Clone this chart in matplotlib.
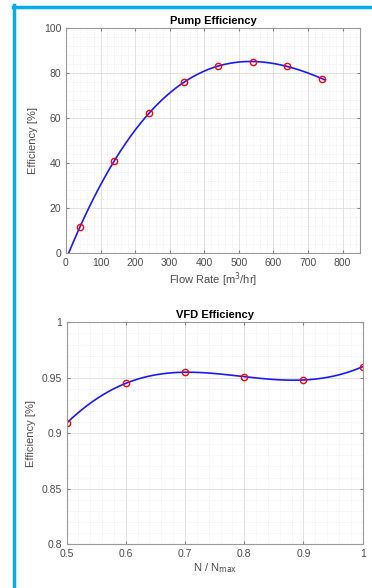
import numpy as np
import matplotlib.pyplot as plt
from matplotlib.lines import Line2D
from matplotlib.ticker import MultipleLocator, FuncFormatter

# pump test points
flow_rate = [40, 140, 240, 340, 440, 540, 640, 740]
pump_eff = [11.5, 41, 62, 76, 83, 85, 83, 77.5]

# VFD points
speed_ratio = [0.5, 0.6, 0.7, 0.8, 0.9, 1.0]
vfd_eff = [0.909, 0.945, 0.955, 0.951, 0.948, 0.960]

plt.rcParams["font.family"] = "Liberation Sans"
tick_col = "#4d4d4d"


def style_axes(ax):
    ax.tick_params(which="both", direction="in", top=True, right=True,
                   colors="#808080", labelcolor=tick_col, labelsize=7.5, length=2.5)
    ax.tick_params(which="minor", length=0)
    for s in ax.spines.values():
        s.set_color("#9a9a9a")
        s.set_linewidth(0.8)
    ax.grid(True, which="major", color="#dddddd", linewidth=0.6)
    ax.grid(True, which="minor", color="#e6e6e6", linewidth=0.5, linestyle=":")
    ax.set_axisbelow(True)


fig = plt.figure(figsize=(3.72, 5.88), dpi=100)

# pump efficiency, cubic fit through the test points
ax1 = fig.add_axes([0.1774, 0.5697, 0.790, 0.3827])
coef = np.polyfit(flow_rate, pump_eff, 3)
xf = np.linspace(8, 750, 200)
ax1.plot(xf, np.polyval(coef, xf), color="#1a1aff", linewidth=1.2)
ax1.plot(flow_rate, pump_eff, "o", mfc="none", mec="red", ms=4.5, mew=1)
ax1.set_xlim(0, 850)
ax1.set_ylim(0, 100)
ax1.xaxis.set_major_locator(MultipleLocator(100))
ax1.xaxis.set_minor_locator(MultipleLocator(20))
ax1.yaxis.set_major_locator(MultipleLocator(20))
ax1.yaxis.set_minor_locator(MultipleLocator(4))
ax1.set_title("Pump Efficiency", fontsize=8, fontweight="bold", pad=3)
ax1.set_xlabel("Flow Rate [m$^3$/hr]", fontsize=8, color=tick_col, labelpad=2)
ax1.set_ylabel("Efficiency [%]", fontsize=8, color=tick_col, labelpad=4)
style_axes(ax1)

# VFD efficiency, polynomial through the points
ax2 = fig.add_axes([0.179, 0.0748, 0.796, 0.377])
coef2 = np.polyfit(speed_ratio, vfd_eff, 5)
xs = np.linspace(0.5, 1.0, 200)
ax2.plot(xs, np.polyval(coef2, xs), color="#1a1aff", linewidth=1.2)
ax2.plot(speed_ratio, vfd_eff, "o", mfc="none", mec="red", ms=4.5, mew=1)
ax2.set_xlim(0.5, 1.0)
ax2.set_ylim(0.8, 1.0)
ax2.xaxis.set_major_locator(MultipleLocator(0.1))
ax2.xaxis.set_minor_locator(MultipleLocator(0.02))
ax2.yaxis.set_major_locator(MultipleLocator(0.05))
ax2.yaxis.set_minor_locator(MultipleLocator(0.01))
fmt = FuncFormatter(lambda v, pos: f"{round(v, 3):g}")
ax2.xaxis.set_major_formatter(fmt)
ax2.yaxis.set_major_formatter(fmt)
ax2.set_title("VFD Efficiency", fontsize=8, fontweight="bold", pad=3)
ax2.set_xlabel("N / N$_{\\rm max}$", fontsize=8, color=tick_col, labelpad=2)
ax2.set_ylabel("Efficiency [%]", fontsize=8, color=tick_col, labelpad=4)
style_axes(ax2)

# cyan frame of the screenshot
frame = "#00aeef"
fig.add_artist(Line2D([13.5 / 372, 13.5 / 372], [0, 1 - 5 / 588],
                      transform=fig.transFigure, color=frame, linewidth=2.5))
fig.add_artist(Line2D([12.5 / 372, 1], [1 - 6.5 / 588, 1 - 6.5 / 588],
                      transform=fig.transFigure, color=frame, linewidth=2.5))

plt.savefig("out.png", dpi=100)
plt.close()
